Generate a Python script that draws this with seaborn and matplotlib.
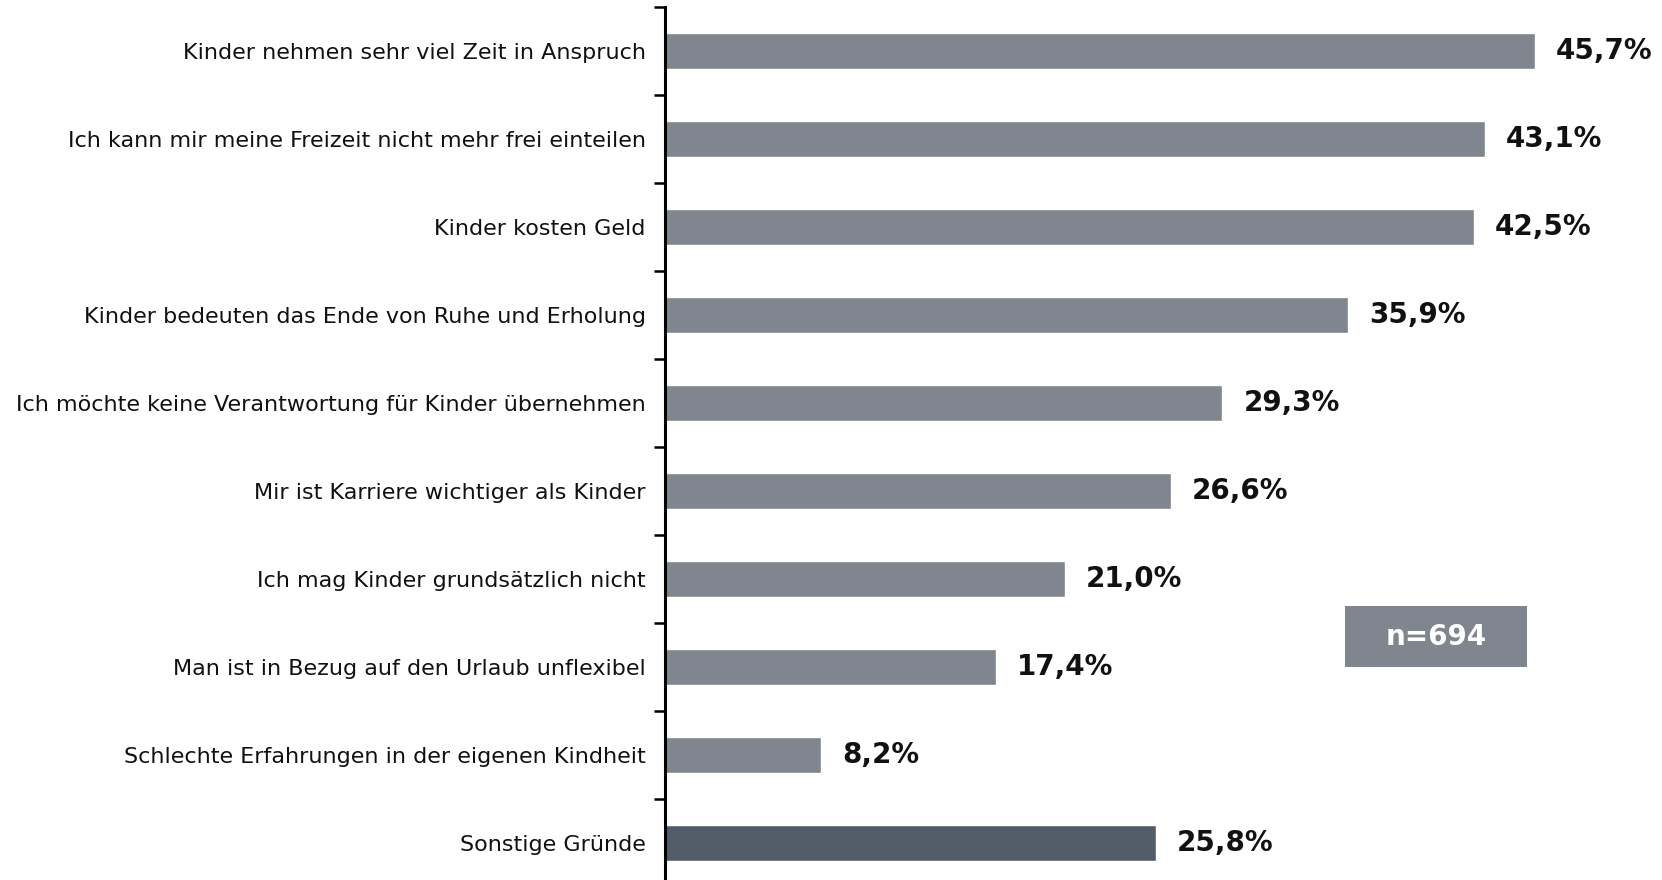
import matplotlib

matplotlib.use("Agg")

import matplotlib.pyplot as plt
import pandas as pd
import seaborn as sns
from matplotlib.patches import Rectangle

reasons = [
    "Kinder nehmen sehr viel Zeit in Anspruch",
    "Ich kann mir meine Freizeit nicht mehr frei einteilen",
    "Kinder kosten Geld",
    "Kinder bedeuten das Ende von Ruhe und Erholung",
    "Ich möchte keine Verantwortung für Kinder übernehmen",
    "Mir ist Karriere wichtiger als Kinder",
    "Ich mag Kinder grundsätzlich nicht",
    "Man ist in Bezug auf den Urlaub unflexibel",
    "Schlechte Erfahrungen in der eigenen Kindheit",
    "Sonstige Gründe",
]
shares = [45.7, 43.1, 42.5, 35.9, 29.3, 26.6, 21.0, 17.4, 8.2, 25.8]
value_labels = ["45,7%", "43,1%", "42,5%", "35,9%", "29,3%",
                "26,6%", "21,0%", "17,4%", "8,2%", "25,8%"]
sample_note = "n=694"

bar_grey = "#80868f"
bar_dark = "#535d69"

df = pd.DataFrame({"reason": reasons, "share": shares})
colors = [bar_grey] * (len(reasons) - 1) + [bar_dark]

sns.set_style("white")
plt.rcParams["font.family"] = ["DejaVu Sans"]

W, H = 1662, 880
fig = plt.figure(figsize=(W / 100, H / 100), dpi=100)
ax = fig.add_axes([665 / W, -7 / H, 997 / W, 1.0])

sns.barplot(data=df, x="share", y="reason", hue="reason", palette=colors,
            legend=False, width=0.4, ax=ax, saturation=1)

ax.set_xlim(0, 52.4)
ax.set_ylim(len(reasons) - 0.5, -0.5)
ax.set_xlabel("")
ax.set_ylabel("")
ax.set_xticks([])

# labels sit at the bar centres, tick marks sit between categories
ax.set_yticks(range(len(reasons)))
ax.set_yticklabels(reasons, fontsize=16, color="#111111")
ax.set_yticks([i - 0.5 for i in range(len(reasons) + 1)], minor=True)
ax.tick_params(axis="y", which="major", length=0, pad=14)
ax.tick_params(axis="y", which="minor", length=8, width=1.8, color="black",
               direction="out", left=True)

for side in ["top", "right", "bottom"]:
    ax.spines[side].set_visible(False)
ax.spines["left"].set_linewidth(2.2)
ax.spines["left"].set_color("black")

for i, (val, lab) in enumerate(zip(shares, value_labels)):
    ax.annotate(lab, xy=(val, i), xytext=(15, 0), textcoords="offset points",
                ha="left", va="center", fontsize=20, fontweight="bold",
                color="#111111")

# sample size box
fig.patches.append(Rectangle((1345 / W, 1 - 667 / H), 182 / W, 61 / H,
                             transform=fig.transFigure, facecolor=bar_grey,
                             edgecolor="none"))
fig.text(1436 / W, 1 - 637 / H, sample_note, ha="center", va="center",
         fontsize=20, fontweight="bold", color="white")

plt.savefig("out.png", dpi=100)
plt.close()
